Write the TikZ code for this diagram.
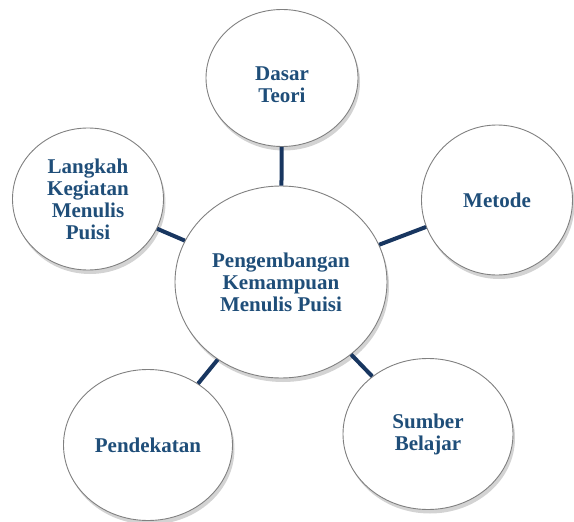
\documentclass[tikz,border=0pt]{standalone}
\usepackage{fontspec}
\setmainfont{Liberation Serif}
\usetikzlibrary{shapes.geometric,shadows}
\definecolor{txtblue}{RGB}{31,78,121}
\definecolor{linknavy}{RGB}{24,54,96}
\begin{document}
\begin{tikzpicture}[
  x=1pt, y=-1pt,
  topic/.style={ellipse, draw=black!50, line width=0.9pt, fill=white, inner sep=0pt,
    drop shadow={shadow xshift=2pt, shadow yshift=-4pt, opacity=0.35, fill=black!50},
    align=center, text=txtblue, font=\bfseries\fontsize{21}{22}\selectfont},
  link/.style={linknavy, line width=4pt}
]
\useasboundingbox (0,0) rectangle (574,522);

% --- topics ---
\node[topic, minimum width=212pt, minimum height=192pt] (main) at (281,282) {Pengembangan\\Kemampuan\\Menulis Puisi};
\node[topic, minimum width=152pt, minimum height=137pt] (teori) at (282,78) {\mbox{}\\[6pt]Dasar\\Teori};
\node[topic, minimum width=151pt, minimum height=150pt] (metode) at (497,200) {Metode};
\node[topic, minimum width=170pt, minimum height=151pt] (sumber) at (428,434) {Sumber\\Belajar};
\node[topic, minimum width=169pt, minimum height=151pt] (dekat) at (148,445) {Pendekatan};
\node[topic, minimum width=151pt, minimum height=142pt] (langkah) at (88,199) {Langkah\\Kegiatan\\Menulis\\Puisi};

% --- links ---
\draw[link] (main) -- (teori);
\draw[link] (main) -- (metode);
\draw[link] (main) -- (sumber);
\draw[link] (main) -- (dekat);
\draw[link] (main) -- (langkah);

\end{tikzpicture}
\end{document}
